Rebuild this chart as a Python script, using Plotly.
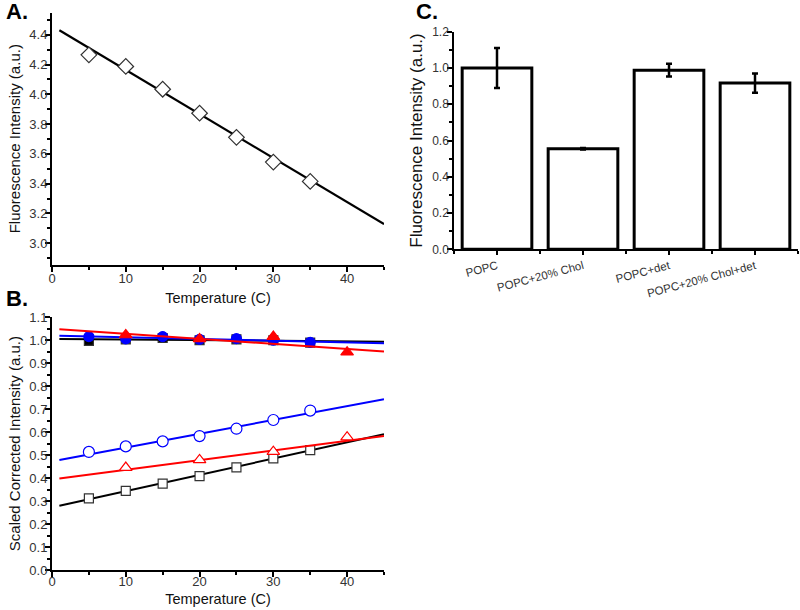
import plotly.graph_objects as go

# ---------------- data ----------------
# Panel A
tempA = [5, 10, 15, 20, 25, 30, 35]
intensityA = [4.265, 4.187, 4.034, 3.873, 3.711, 3.545, 3.415]
fit_x = [1, 45]
fitA_y = [4.43, 3.128]

# Panel B
temp7 = [5, 10, 15, 20, 25, 30, 35]
temp4 = [10, 20, 30, 40]
open_black = [0.312, 0.344, 0.376, 0.409, 0.447, 0.486, 0.522]
open_red = [0.446, 0.479, 0.515, 0.578]
open_blue = [0.514, 0.538, 0.560, 0.583, 0.615, 0.653, 0.694]
filled_black = [0.997, 1.004, 1.010, 1.000, 1.004, 1.000, 0.990]
filled_blue = [1.016, 1.006, 1.016, 1.004, 1.007, 1.000, 0.991]
filled_red = [1.023, 1.006, 1.016, 0.948]
fit_open_black = [0.280, 0.591]
fit_open_red = [0.398, 0.583]
fit_open_blue = [0.479, 0.743]
fit_filled_black = [1.006, 0.994]
fit_filled_blue = [1.020, 0.987]
fit_filled_red = [1.048, 0.951]

# Panel C
categories = ["POPC", "POPC+20% Chol", "POPC+det", "POPC+20% Chol+det"]
cat_pos = [0, 1, 2, 3]
barC = [1.0, 0.555, 0.988, 0.917]
errC = [0.11, 0.004, 0.035, 0.053]

BLUE = "#0000ff"
RED = "#ff0000"
FONT = "Liberation Sans, Arial, sans-serif"

fig = go.Figure()

# ---- Panel A ----
fig.add_trace(go.Scatter(x=fit_x, y=fitA_y, mode="lines",
                         line=dict(color="black", width=2.2),
                         xaxis="x", yaxis="y", showlegend=False))
fig.add_trace(go.Scatter(x=tempA, y=intensityA, mode="markers",
                         marker=dict(symbol="diamond", size=12, color="white",
                                     line=dict(color="#333333", width=1.2)),
                         xaxis="x", yaxis="y", showlegend=False))

# ---- Panel B ----
def line_b(y, color):
    fig.add_trace(go.Scatter(x=fit_x, y=y, mode="lines",
                             line=dict(color=color, width=2),
                             xaxis="x2", yaxis="y2", showlegend=False))

def mk_b(x, y, symbol, color, fill, size=10):
    fig.add_trace(go.Scatter(x=x, y=y, mode="markers",
                             marker=dict(symbol=symbol, size=size,
                                         color=color if fill else "white",
                                         line=dict(color="#333333" if color == "black" else color,
                                                   width=1.2)),
                             xaxis="x2", yaxis="y2", showlegend=False))

line_b(fit_open_black, "black")
mk_b(temp7, open_black, "square", "black", False, 9)
line_b(fit_open_red, RED)
mk_b(temp4, open_red, "triangle-up", RED, False, 11)
line_b(fit_open_blue, BLUE)
mk_b(temp7, open_blue, "circle", BLUE, False, 11)

mk_b(temp7, filled_black, "square", "black", True, 9)
line_b(fit_filled_black, "black")
mk_b(temp7, filled_blue, "circle", BLUE, True, 10)
line_b(fit_filled_blue, BLUE)
mk_b(temp4, filled_red, "triangle-up", RED, True, 11)
line_b(fit_filled_red, RED)

# ---- Panel C ----
fig.add_trace(go.Bar(x=cat_pos, y=barC, width=0.81,
                     marker=dict(color="white", line=dict(color="black", width=3)),
                     error_y=dict(type="data", array=errC, color="black",
                                  thickness=2.5, width=3),
                     xaxis="x3", yaxis="y3", showlegend=False))

# ---------------- layout ----------------
W, H = 800, 610
def xd(a, b):
    return [a / W, b / W]
def yd(top, bottom):
    return [(H - bottom) / H, (H - top) / H]

tickfont = dict(family=FONT, size=13, color="#333333")
titlefont = dict(family=FONT, size=14.5, color="#111111")
ytitlefont = dict(family=FONT, size=15, color="#111111")

common_axis = dict(showline=True, linecolor="black", linewidth=2,
                   ticks="outside", ticklen=5, tickwidth=1.5, tickcolor="black",
                   showgrid=False, zeroline=False, tickfont=tickfont,
                   automargin=False)

fig.update_layout(
    width=W, height=H,
    margin=dict(l=0, r=0, t=0, b=0),
    paper_bgcolor="white", plot_bgcolor="white",
    font=dict(family=FONT),
    xaxis=dict(domain=xd(52, 384), range=[0, 45], anchor="y",
               dtick=10, tick0=0, ticklabelstandoff=-4,
               minor=dict(dtick=5, ticks="outside", ticklen=3, tickcolor="black"),
               title=dict(text="Temperature (C)", font=titlefont, standoff=8),
               **common_axis),
    yaxis=dict(domain=yd(13, 264.5), range=[2.857, 4.546], anchor="x",
               tickvals=[3.0, 3.2, 3.4, 3.6, 3.8, 4.0, 4.2, 4.4],
               ticktext=["3.0", "3.2", "3.4", "3.6", "3.8", "4.0", "4.2", "4.4"],
               ticklabelstandoff=-5,
               minor=dict(dtick=0.1, tick0=0, ticks="outside", ticklen=3, tickcolor="black"),
               title=dict(text="Fluorescence Intensity (a.u.)", font=ytitlefont, standoff=5),
               **common_axis),
    xaxis2=dict(domain=xd(52, 384), range=[0, 45], anchor="y2",
                dtick=10, tick0=0, ticklabelstandoff=-7,
                minor=dict(dtick=5, ticks="outside", ticklen=3, tickcolor="black"),
                title=dict(text="Temperature (C)", font=titlefont, standoff=6),
                **common_axis),
    yaxis2=dict(domain=yd(317.3, 570), range=[0, 1.1], anchor="x2",
                dtick=0.1, tick0=0, tickformat=".1f",
                ticklabelstandoff=-5,
                minor=dict(dtick=0.05, ticks="outside", ticklen=3, tickcolor="black"),
                title=dict(text="Scaled Corrected Intensity (a.u.)", font=ytitlefont, standoff=5),
                **common_axis),
    xaxis3=dict(domain=xd(454, 798), range=[-0.5, 3.5], anchor="y3",
                tickvals=cat_pos, ticktext=categories, tickangle=-15,
                minor=dict(dtick=0.5, tick0=0.5, ticks="outside", ticklen=3, tickcolor="black"),
                **{**common_axis, "tickfont": dict(family=FONT, size=11.5, color="#333333"),
                   "linewidth": 1.5, "ticklen": 4}),
    yaxis3=dict(domain=yd(31.7, 249.3), range=[0, 1.2], anchor="x3",
                dtick=0.2, tick0=0, tickformat=".1f",
                ticklabelstandoff=-4,
                minor=dict(dtick=0.1, ticks="outside", ticklen=3, tickcolor="black"),
                title=dict(text="Fluorescence Intensity (a.u.)", font=dict(family=FONT, size=17, color="#111111"), standoff=5),
                **{**common_axis, "tickfont": dict(family=FONT, size=12, color="#333333"),
                   "linewidth": 1.5}),
)

letter_font = dict(family=FONT, size=22, color="black")
for txt, px, py in [("A.", 4, 12), ("B.", 4, 298), ("C.", 414, 12)]:
    fig.add_annotation(text="<b>" + txt + "</b>", x=px / W, y=(H - py) / H,
                       xref="paper", yref="paper", xanchor="left", yanchor="middle",
                       showarrow=False, font=letter_font)

fig.write_html("out.html", config={"displayModeBar": False},
               post_script="document.body.style.margin='0px';document.body.style.overflow='hidden';")
